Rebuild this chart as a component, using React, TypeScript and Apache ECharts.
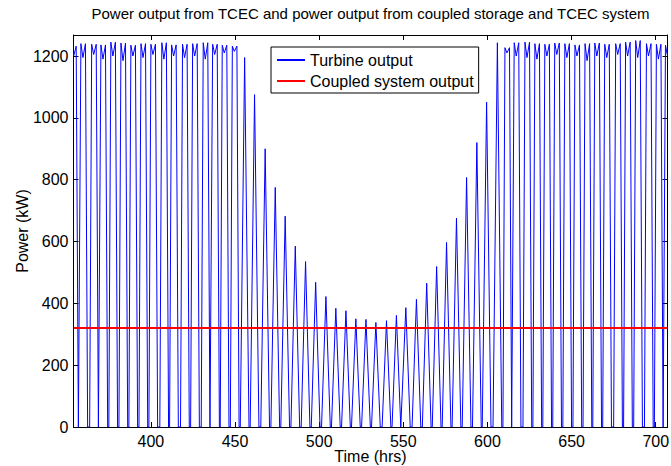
import React, { useEffect, useRef } from "react";
import * as echarts from "echarts";

// Peak (centre) time of each tidal generation cycle, hrs
const peakHours = [
  354.3, 359.8, 366.2, 371.7, 377.6, 383.6, 389.5, 395.5, 401.4, 407.9,
  413.7, 420.2, 426.2, 432.5, 438.1, 443.8, 449.8, 455.7, 461.6, 467.9,
  473.9, 479.8, 485.8, 491.9, 497.9, 504.0, 509.9, 515.9, 521.8, 527.8,
  533.7, 540.0, 545.9, 551.5, 557.8, 563.9, 569.8, 575.7, 581.6, 587.6,
  593.7, 599.5, 605.9, 611.8, 617.3, 623.7, 629.6, 635.5, 641.4, 647.4,
  653.4, 659.4, 665.2, 671.1, 677.6, 683.5, 689.5, 695.9, 701.8, 707.2,
];
// Peak turbine power of each cycle, kW
const peakKW = [
  1232, 1240, 1238, 1236, 1245, 1242, 1235, 1240, 1238, 1243,
  1236, 1238, 1240, 1243, 1238, 1235, 1232, 1195, 1075, 900,
  775, 682, 585, 535, 468, 422, 384, 376, 350, 348,
  338, 344, 361, 386, 413, 465, 519, 597, 676, 807,
  920, 1051, 1243, 1227, 1243, 1245, 1240, 1238, 1242, 1240,
  1236, 1240, 1242, 1238, 1240, 1245, 1250, 1240, 1238, 1235,
];
// Lowest value reached on the rated plateau (null = cycle not at rated power)
const plateauDipKW: (number | null)[] = [
  1200, 1195, 1205, 1190, 1200, 1185, 1200, 1195, 1205, 1190,
  1200, 1195, 1200, 1190, 1205, 1210, 1215, null, null, null,
  null, null, null, null, null, null, null, null, null, null,
  null, null, null, null, null, null, null, null, null, null,
  null, null, null, 1210, 1200, 1195, 1190, 1200, 1205, 1195,
  1200, 1185, 1200, 1195, 1205, 1200, 1195, 1200, 1190, 1200,
];
const coupledKW = 320;
const timeRange = [354, 707];
const powerMax = 1268;
const xTickValues = [400, 450, 500, 550, 600, 650, 700];
const yTickValues = [0, 200, 400, 600, 800, 1000, 1200];

const FONT = "'Liberation Sans', Arial, Helvetica, sans-serif";

function buildTurbineSeries(): [number, number][] {
  const pts: [number, number][] = [];
  peakHours.forEach((tc, i) => {
    const p = peakKW[i];
    const d = plateauDipKW[i];
    pts.push([tc - 2.6, 0]);
    if (d != null) {
      pts.push([tc - 1.4, p]);
      pts.push([tc - 0.2, d]);
      pts.push([tc + 1.3, p]);
    } else {
      pts.push([tc, p]);
    }
    pts.push([tc + 2.6, 0]);
  });
  return pts;
}

export default function App() {
  const ref = useRef<HTMLDivElement>(null);
  useEffect(() => {
    if (!ref.current) return;
    const chart = echarts.init(ref.current, undefined, { renderer: "svg" });
    const axisLine = { show: true, onZero: false, lineStyle: { color: "#000", width: 1 } };
    const plain = (v: number) => String(v);
    chart.setOption({
      animation: false,
      backgroundColor: "#fff",
      color: ["#0000ff", "#ff0000"],
      title: {
        text: "Power output from TCEC and power output from coupled storage and TCEC system",
        left: 370.5,
        top: 6,
        padding: 0,
        textAlign: "center",
        textStyle: { fontSize: 15, fontWeight: "normal", fontFamily: FONT, color: "#000" },
      },
      legend: {
        orient: "vertical",
        left: 271,
        top: 47,
        padding: [5, 5, 4, 6],
        itemGap: 5,
        itemWidth: 28,
        itemHeight: 2,
        icon: "rect",
        backgroundColor: "#fff",
        borderColor: "#000",
        borderWidth: 1,
        borderRadius: 0,
        textStyle: { fontSize: 16, fontFamily: FONT, color: "#000", lineHeight: 16 },
        data: [
          { name: "Turbine output", icon: "rect", itemStyle: { color: "#0000ff" } },
          { name: "Coupled system output", icon: "rect", itemStyle: { color: "#ff0000" } },
        ],
      },
      grid: {
        left: 73.5,
        right: 3.5,
        top: 35,
        bottom: 39,
        containLabel: false,
        outerBoundsMode: "none",
      },
      xAxis: [
        {
          type: "value",
          position: "bottom",
          min: timeRange[0],
          max: timeRange[1],
          axisLine,
          splitLine: { show: false },
          axisTick: { show: true, inside: true, length: 5, customValues: xTickValues, lineStyle: { color: "#000" } },
          axisLabel: {
            customValues: xTickValues,
            formatter: plain,
            fontSize: 16,
            lineHeight: 15,
            fontFamily: FONT,
            color: "#000",
            margin: 7,
          },
          name: "Time (hrs)",
          nameLocation: "middle",
          nameGap: 22,
          nameMoveOverlap: false,
          nameTextStyle: { fontSize: 16, lineHeight: 15, fontFamily: FONT, color: "#000" },
        },
        {
          type: "value",
          position: "top",
          min: timeRange[0],
          max: timeRange[1],
          axisLine,
          splitLine: { show: false },
          axisTick: { show: true, inside: true, length: 5, customValues: xTickValues, lineStyle: { color: "#000" } },
          axisLabel: { show: false },
        },
      ],
      yAxis: [
        {
          type: "value",
          position: "left",
          min: 0,
          max: powerMax,
          axisLine,
          splitLine: { show: false },
          axisTick: { show: true, inside: true, length: 5, customValues: yTickValues, lineStyle: { color: "#000" } },
          axisLabel: { customValues: yTickValues, formatter: plain, fontSize: 16, fontFamily: FONT, color: "#000", margin: 5 },
          name: "Power (kW)",
          nameLocation: "middle",
          nameRotate: 90,
          nameGap: 43,
          nameMoveOverlap: false,
          nameTextStyle: { fontSize: 16, fontFamily: FONT, color: "#000" },
        },
        {
          type: "value",
          position: "right",
          min: 0,
          max: powerMax,
          axisLine,
          splitLine: { show: false },
          axisTick: { show: true, inside: true, length: 5, customValues: yTickValues, lineStyle: { color: "#000" } },
          axisLabel: { show: false },
        },
      ],
      series: [
        {
          name: "Turbine output",
          type: "line",
          xAxisIndex: 0,
          yAxisIndex: 0,
          data: buildTurbineSeries(),
          symbol: "none",
          clip: true,
          lineStyle: { color: "#0000ff", width: 1 },
          z: 2,
        },
        {
          name: "Coupled system output",
          type: "line",
          xAxisIndex: 0,
          yAxisIndex: 0,
          data: [
            [timeRange[0], coupledKW],
            [timeRange[1], coupledKW],
          ],
          symbol: "none",
          lineStyle: { color: "#ff0000", width: 2 },
          z: 3,
        },
      ],
    });
    return () => chart.dispose();
  }, []);
  return (
    <div
      ref={ref}
      style={{ position: "fixed", left: 0, top: 0, width: 671, height: 466, background: "#fff" }}
    />
  );
}
